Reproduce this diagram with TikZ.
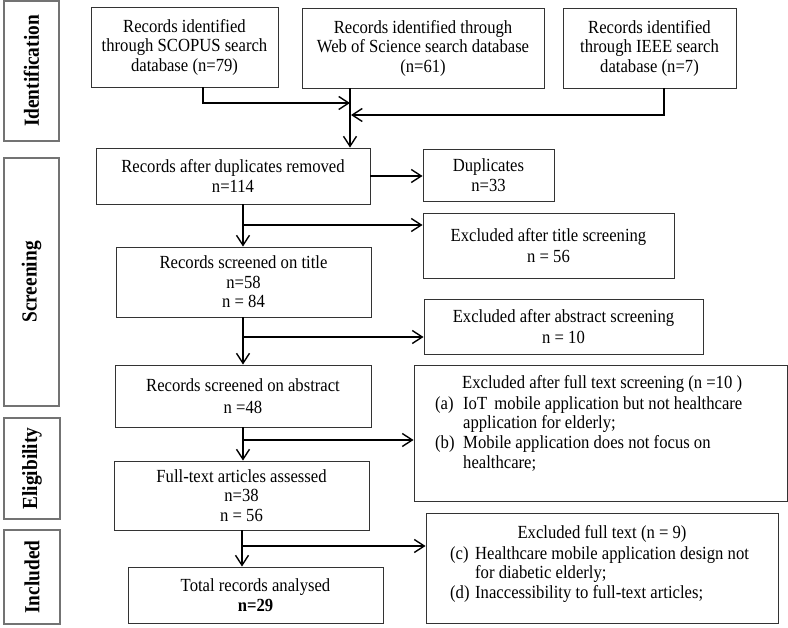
\documentclass[tikz,border=0pt]{standalone}
\usepackage{fontspec}
\setmainfont{Liberation Serif}[FakeStretch=0.9]
\usetikzlibrary{arrows.meta}
\begin{document}
\begin{tikzpicture}[x=1pt,y=-1pt,
  box/.style={draw=black!80, line width=0.9pt, inner sep=2pt, align=center,
    font=\fontsize{18.5}{19.5}\selectfont},
  side/.style={draw=black!55, line width=1.3pt, inner sep=0pt},
  sidetext/.style={rotate=90, font=\fontsize{21.5}{22}\selectfont\bfseries},
  txt/.style={inner sep=0pt, anchor=base west, font=\fontsize{18.5}{19.5}\selectfont},
  conn/.style={line width=1.4pt},
  arr/.style={line width=1.4pt, -{Straight Barb[length=10pt,width=13pt]}}]
\useasboundingbox (0,0) rectangle (788,628);
% side labels
\node[side, minimum width=55pt, minimum height=140pt] (sid) at (31.5,71) {};
\node[sidetext] (sidt) at (sid.center) {Identification};
\node[side, minimum width=55pt, minimum height=248pt] (sscr) at (31.5,282) {};
\node[sidetext] (sscrt) at (sscr.center) {Screening};
\node[side, minimum width=56pt, minimum height=101pt] (sel) at (32,468.5) {};
\node[sidetext] (selt) at (sel.center) {Eligibility};
\node[side, minimum width=56pt, minimum height=94pt] (sinc) at (32,577) {};
\node[sidetext] (sinct) at (sinc.center) {Included};
% top boxes
\node[box, minimum width=187pt, minimum height=80pt] (scopus) at (184.5,47)
  {Records identified\\through SCOPUS search\\database (n=79)};
\node[box, minimum width=242pt, minimum height=80pt] (wos) at (423,48)
  {Records identified through\\Web of Science search database\\(n=61)};
\node[box, minimum width=173pt, minimum height=80pt] (ieee) at (649.5,48)
  {Records identified\\through IEEE search\\database (n=7)};
% main column
\node[box, minimum width=274pt, minimum height=56pt] (rad) at (233,176)
  {Records after duplicates removed\\n=114};
\node[box, minimum width=131pt, minimum height=52pt] (dupl) at (488.5,175)
  {Duplicates\\n=33};
\node[box, minimum width=251pt, minimum height=65pt] (extitle) at (548.5,245.5)
  {Excluded after title screening\\[2pt]n = 56};
\node[box, minimum width=255pt, minimum height=70pt] (title) at (243.5,282)
  {Records screened on title\\n=58\\n = 84};
\node[box, minimum width=279pt, minimum height=55pt] (exabs) at (563.5,326.5)
  {Excluded after abstract screening\\[2pt]n = 10};
\node[box, minimum width=256pt, minimum height=62pt] (abs) at (243,396)
  {Records screened on abstract\\[3pt]n =48};
\node[box, minimum width=255pt, minimum height=69pt] (full) at (241.5,495.5)
  {Full-text articles assessed\\n=38\\n = 56};
\node[box, minimum width=255pt, minimum height=56pt] (total) at (255.5,595)
  {Total records analysed\\\textbf{n=29}};
% exclusion boxes with lists
\node[box, minimum width=373pt, minimum height=136pt] (ftone) at (600.5,433) {};
\node[txt] (ft1t) at (462,389) {Excluded after full text screening (n =10 )};
\node[txt] (ft1a) at (435,409.5) {(a)};
\node[txt] (ft1at) at (463,409.5) {IoT\, mobile application but not healthcare};
\node[txt] (ft1au) at (463,429) {application for elderly;};
\node[txt] (ft1b) at (435,448.5) {(b)};
\node[txt] (ft1bt) at (463,448.5) {Mobile application does not focus on};
\node[txt] (ft1bu) at (463,468) {healthcare;};
\node[box, minimum width=352pt, minimum height=110pt] (fttwo) at (602,568) {};
\node[txt, anchor=base] (ft2t) at (602,538) {Excluded full text (n = 9)};
\node[txt] (ft2c) at (450,559) {(c)};
\node[txt] (ft2ct) at (475,559) {Healthcare mobile application design not};
\node[txt] (ft2cu) at (475,578.5) {for diabetic elderly;};
\node[txt] (ft2d) at (450,598) {(d)};
\node[txt] (ft2dt) at (475,598) {Inaccessibility to full-text articles;};
% connectors
\coordinate (j1) at (350,103);
\coordinate (j2) at (351,115);
\draw[arr] ([xshift=18.5pt]scopus.south) |- (j1);
\draw[arr] ([xshift=14.5pt]ieee.south) |- (j2);
\draw[arr] (wos.south -| j1) -- (rad.north -| j1);
\draw[arr] (rad.east) -- (rad.east -| dupl.west);
\coordinate (b1) at (243,225);
\draw[arr] (b1 |- rad.south) -- (b1 |- title.north);
\draw[arr] (b1) -- (b1 -| extitle.west);
\coordinate (b2) at (243,337);
\draw[arr] (b2 |- title.south) -- (b2 |- abs.north);
\draw[arr] (b2) -- (b2 -| exabs.west);
\coordinate (b3) at (243,440);
\draw[arr] (b3 |- abs.south) -- (b3 |- full.north);
\draw[arr] (b3) -- (b3 -| ftone.west);
\coordinate (b4) at (242,546);
\draw[arr] (b4 |- full.south) -- (b4 |- total.north);
\draw[arr] (b4) -- (b4 -| fttwo.west);
\end{tikzpicture}
\end{document}
